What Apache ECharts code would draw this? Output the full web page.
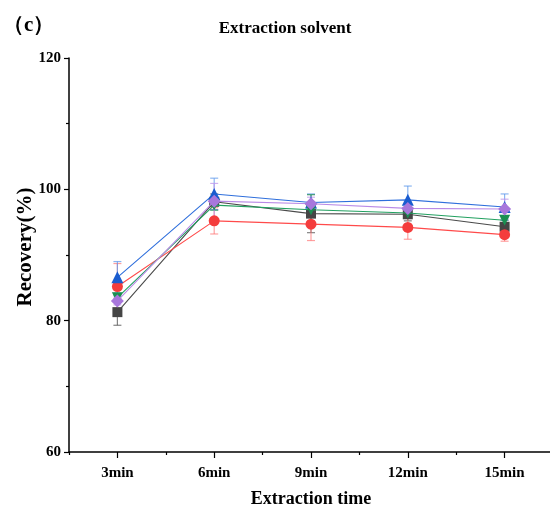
<!DOCTYPE html>
<html><head><meta charset="utf-8">
<script src="https://cdn.jsdelivr.net/npm/echarts@6/dist/echarts.min.js"></script>
<style>html,body{margin:0;padding:0;background:#fff}#c{width:550px;height:508px}</style>
</head><body><div id="c"></div>
<script>
const categories = ['3min', '6min', '9min', '12min', '15min'];
const seriesNames = ['S1', 'S2', 'S3', 'S4', 'S5'];
const blackVals  = [81.3, 98.1, 96.3, 96.2, 94.3];
const blackErr   = [2.0, 1.2, 2.9, 1.0, 1.0];
const redVals    = [85.2, 95.2, 94.7, 94.2, 93.1];
const redErr     = [3.5, 2.0, 2.5, 1.8, 1.0];
const blueVals   = [86.6, 99.3, 98.0, 98.4, 97.3];
const blueErr    = [2.4, 2.4, 1.3, 2.1, 2.0];
const greenVals  = [83.5, 97.6, 96.9, 96.4, 95.3];
const greenErr   = [0.4, 0.8, 2.3, 0.5, 0.5];
const purpleVals = [83.0, 98.2, 97.8, 97.1, 97.0];
const purpleErr  = [0.6, 2.7, 1.0, 1.0, 1.5];
const yTicks = [60, 80, 100, 120];

const FONT = '"Liberation Serif", "Times New Roman", serif';
const defs = [
  {name: seriesNames[0], vals: blackVals, err: blackErr, line: '#4a4a4a', sym: '#454545', errC: 'rgba(90,90,90,0.75)', symbol: 'rect', size: 10, rot: 0},
  {name: seriesNames[1], vals: redVals, err: redErr, line: '#ff4a4a', sym: '#f43c3c', errC: 'rgba(255,120,120,0.7)', symbol: 'circle', size: 11, rot: 0},
  {name: seriesNames[2], vals: blueVals, err: blueErr, line: '#2f6fdc', sym: '#1a5ccf', errC: 'rgba(90,150,235,0.7)', symbol: 'triangle', size: 12, rot: 0},
  {name: seriesNames[3], vals: greenVals, err: greenErr, line: '#22a060', sym: '#1a8f52', errC: 'rgba(60,170,110,0.7)', symbol: 'triangle', size: 11, rot: 180},
  {name: seriesNames[4], vals: purpleVals, err: purpleErr, line: '#b98ae6', sym: '#a877dc', errC: 'rgba(190,150,235,0.75)', symbol: 'diamond', size: 13, rot: 0}
];

const series = [];
defs.forEach(function (d, k) {
  series.push({
    type: 'custom',
    name: d.name + '_err',
    xAxisIndex: 0, yAxisIndex: 0,
    z: 1,
    silent: true,
    data: d.vals.map(function (v, i) { return [i, v - d.err[i], v + d.err[i]]; }),
    renderItem: function (params, api) {
      const lo = api.coord([api.value(0), api.value(1)]);
      const hi = api.coord([api.value(0), api.value(2)]);
      const hw = 4;
      const st = {stroke: d.errC, lineWidth: 1.2, fill: null};
      return {type: 'group', children: [
        {type: 'line', shape: {x1: hi[0], y1: hi[1], x2: lo[0], y2: lo[1]}, style: st},
        {type: 'line', shape: {x1: hi[0] - hw, y1: hi[1], x2: hi[0] + hw, y2: hi[1]}, style: st},
        {type: 'line', shape: {x1: lo[0] - hw, y1: lo[1], x2: lo[0] + hw, y2: lo[1]}, style: st}
      ]};
    }
  });
});
defs.forEach(function (d, k) {
  series.push({
    type: 'line',
    name: d.name,
    xAxisIndex: 0, yAxisIndex: 0,
    z: 3 + k,
    data: d.vals,
    symbol: d.symbol,
    symbolSize: d.size,
    symbolRotate: d.rot,
    showAllSymbol: true,
    lineStyle: {color: d.line, width: 1.1},
    itemStyle: {color: d.sym, borderWidth: 0},
    emphasis: {disabled: true},
    animation: false
  });
});

const chart = echarts.init(document.getElementById('c'), null, {renderer: 'canvas'});
chart.setOption({
  animation: false,
  backgroundColor: '#fff',
  title: {
    text: 'Extraction solvent',
    left: 280, top: 15, textAlign: 'center',
    textStyle: {fontFamily: FONT, fontWeight: 'bold', fontSize: 17, color: '#000'}
  },
  graphic: [{
    type: 'text', left: 3, top: 15,
    style: {text: '（c）', font: 'bold 21px ' + FONT, fill: '#000'}
  }],
  grid: {left: 69, right: -3, top: 58, bottom: 56, containLabel: false, outerBoundsMode: 'none'},
  xAxis: [{
    type: 'category',
    position: 'bottom',
    data: categories,
    boundaryGap: true,
    name: 'Extraction time',
    nameLocation: 'middle',
    nameGap: 38,
    nameMoveOverlap: false,
    nameTextStyle: {fontFamily: FONT, fontWeight: 'bold', fontSize: 18, color: '#000'},
    axisLine: {show: true, lineStyle: {color: '#000', width: 1.5}},
    axisTick: {show: true, alignWithLabel: true, length: 6, lineStyle: {color: '#000', width: 1.2}},
    axisLabel: {margin: 14, fontFamily: FONT, fontWeight: 'bold', fontSize: 15, color: '#000'},
    splitLine: {show: false}
  }, {
    type: 'category',
    position: 'bottom',
    data: categories,
    boundaryGap: true,
    axisLine: {show: false},
    axisTick: {show: true, alignWithLabel: false, length: 3, lineStyle: {color: '#000', width: 1.2}},
    axisLabel: {show: false},
    splitLine: {show: false}
  }],
  yAxis: {
    type: 'value',
    min: 60, max: 120, interval: 20,
    name: 'Recovery(%)',
    nameLocation: 'middle',
    nameGap: 33,
    nameMoveOverlap: false,
    nameTextStyle: {fontFamily: FONT, fontWeight: 'bold', fontSize: 21, color: '#000', padding: [0, 0, 0, 16]},
    axisLine: {show: true, lineStyle: {color: '#000', width: 1.5}},
    axisTick: {show: true, length: 5, lineStyle: {color: '#000', width: 1.2}},
    minorTick: {show: true, splitNumber: 2, length: 3, lineStyle: {color: '#000', width: 1.2}},
    axisLabel: {
      margin: 8, fontFamily: FONT, fontWeight: 'bold', fontSize: 15, color: '#000',
      formatter: function (v) { return yTicks.indexOf(v) >= 0 ? String(v) : ''; }
    },
    splitLine: {show: false}
  },
  series: series
});
</script>
</body></html>
